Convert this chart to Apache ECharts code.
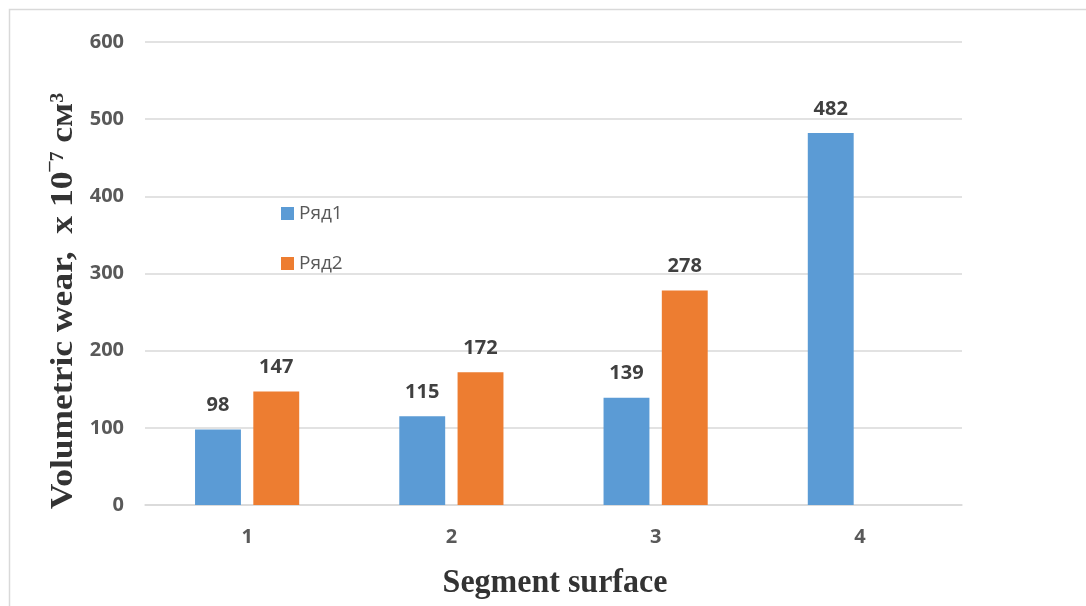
<!DOCTYPE html>
<html>
<head>
<meta charset="utf-8">
<script src="https://cdn.jsdelivr.net/npm/echarts@6/dist/echarts.min.js"></script>
<style>
  html, body { margin: 0; padding: 0; background: #ffffff; }
  #chart { width: 1086px; height: 606px; }
</style>
</head>
<body>
<div id="chart"></div>
<script>
// Segment surfaces on the category axis
const categories = ['1', '2', '3', '4'];
// Volumetric wear, x 10^-7 cm^3 (segment 4 has no second series value)
const series1 = [98, 115, 139, 482];
const series2 = [147, 172, 278, null];
const seriesNames = ['Ряд1', 'Ряд2'];
const yTicks = { min: 0, max: 600, interval: 100 };

const labelFont = '"Open Sans", "Liberation Sans", sans-serif';
const titleFont = '"Liberation Serif", "DejaVu Serif", serif';

const chart = echarts.init(document.getElementById('chart'), null, { renderer: 'canvas' });

const barLabel = {
  show: true,
  position: 'top',
  distance: 14,
  color: '#404040',
  fontFamily: labelFont,
  fontWeight: 'bold',
  fontSize: 20
};

const tickLabel = {
  color: '#595959',
  fontFamily: labelFont,
  fontWeight: 'bold',
  fontSize: 20
};

chart.setOption({
  animation: false,
  backgroundColor: '#ffffff',
  grid: { left: 145, right: 124, top: 42, bottom: 101, containLabel: false },
  legend: {
    orient: 'vertical',
    left: 276,
    top: 199,
    itemWidth: 13,
    itemHeight: 13,
    itemGap: 31,
    icon: 'rect',
    textStyle: { color: '#595959', fontFamily: labelFont, fontSize: 19 },
    data: seriesNames
  },
  xAxis: {
    type: 'category',
    data: categories,
    axisTick: { show: false },
    axisLine: { lineStyle: { color: '#d9d9d9', width: 1.5 } },
    axisLabel: Object.assign({ margin: 22 }, tickLabel)
  },
  yAxis: {
    type: 'value',
    min: yTicks.min,
    max: yTicks.max,
    interval: yTicks.interval,
    axisLine: { show: false },
    axisTick: { show: false },
    splitLine: { lineStyle: { color: '#d9d9d9', width: 1.5 } },
    axisLabel: Object.assign({ margin: 21 }, tickLabel)
  },
  series: [
    {
      name: seriesNames[0],
      type: 'bar',
      data: series1,
      itemStyle: { color: '#5b9bd5' },
      barGap: '27%',
      barCategoryGap: '49%',
      label: barLabel
    },
    {
      name: seriesNames[1],
      type: 'bar',
      data: series2,
      itemStyle: { color: '#ed7d31' },
      label: barLabel
    }
  ],
  graphic: [
    // chart frame (top and left edges)
    {
      type: 'rect',
      shape: { x: 9.5, y: 9.5, width: 1200, height: 800 },
      style: { fill: null, stroke: '#d9d9d9', lineWidth: 1.5 },
      silent: true
    },
    // value axis title
    {
      type: 'text',
      x: 64,
      y: 301,
      rotation: Math.PI / 2,
      scaleX: 1.11,
      style: {
        text: '{m|Volumetric wear,  x 10}{s|¯7}{m| см}{s|3}',
        align: 'center',
        verticalAlign: 'middle',
        fill: '#333333',
        rich: {
          m: { fontFamily: titleFont, fontWeight: 'bold', fontSize: 32, fill: '#333333', lineHeight: 30 },
          s: { fontFamily: titleFont, fontWeight: 'bold', fontSize: 18, fill: '#333333', verticalAlign: 'top', lineHeight: 16 }
        }
      }
    },
    // category axis title
    {
      type: 'text',
      x: 555,
      y: 583,
      scaleY: 1.08,
      style: {
        text: 'Segment surface',
        align: 'center',
        verticalAlign: 'middle',
        fill: '#333333',
        fontFamily: titleFont,
        fontWeight: 'bold',
        fontSize: 32
      }
    }
  ]
});
</script>
</body>
</html>
